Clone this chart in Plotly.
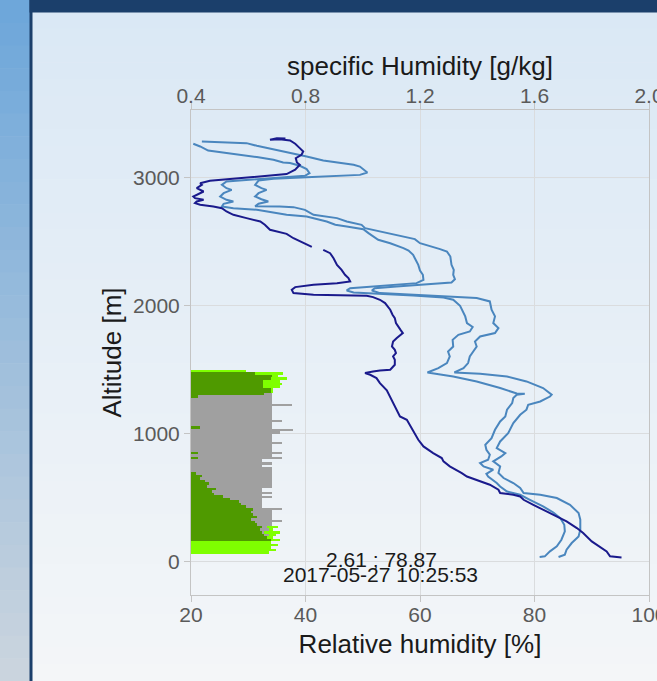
import plotly.graph_objects as go

# ---------------- data ----------------
# Specific humidity profile (dark line, top axis, g/kg)
q_alt = [34, 42, 81, 120, 159, 224, 263, 315, 341, 393,
         445, 484, 510, 523, 537, 563, 602, 627, 666, 693,
         745, 784, 810, 849, 901, 953, 1057, 1109, 1135, 1213,
         1291, 1340, 1396, 1435, 1461, 1474, 1487, 1495, 1500, 1539,
         1578, 1604, 1630, 1656, 1682, 1721, 1747, 1773, 1787, 1812,
         1838, 1865, 1904, 1930, 1969, 2021, 2047, 2068, 2078, 2080,
         2086, 2099, 2125, 2146, 2164, 2177, 2190, 2216, 2242, 2281,
         2320, 2372, 2411, 2437, None, 2460, 2489, 2528, 2562, 2594,
         2633, 2659, 2685, 2698, 2711, 2737, 2763, 2776, 2789, 2802,
         2815, 2828, 2841, 2854, 2875, 2893, 2919, 2945, 2958, 2977,
         2990, 3010, 3029, 3063, 3102, 3120, 3154, 3180, 3206, 3232,
         3266, 3292, 3302, 3297, 3310, 3308]
q_val = [1.904, 1.864, 1.852, 1.828, 1.800, 1.770, 1.748, 1.712, 1.690, 1.642,
         1.596, 1.562, 1.550, 1.526, 1.480, 1.474, 1.444, 1.410, 1.364, 1.346,
         1.304, 1.282, 1.276, 1.246, 1.212, 1.194, 1.166, 1.154, 1.130, 1.112,
         1.096, 1.084, 1.060, 1.048, 1.026, 1.008, 1.036, 1.060, 1.096, 1.112,
         1.112, 1.106, 1.116, 1.112, 1.102, 1.106, 1.118, 1.130, 1.140, 1.132,
         1.124, 1.116, 1.112, 1.104, 1.096, 1.078, 1.060, 1.036, 1.014, 0.944,
         0.828, 0.758, 0.752, 0.764, 0.828, 0.910, 0.956, 0.950, 0.938, 0.926,
         0.910, 0.898, 0.886, 0.862, None, 0.822, 0.792, 0.758, 0.734, 0.676,
         0.658, 0.642, 0.594, 0.566, 0.548, 0.524, 0.508, 0.478, 0.432, 0.414,
         0.420, 0.444, 0.414, 0.408, 0.426, 0.444, 0.420, 0.438, 0.432, 0.466,
         0.536, 0.652, 0.734, 0.764, 0.780, 0.770, 0.766, 0.786, 0.792, 0.780,
         0.764, 0.746, 0.710, 0.676, 0.700, 0.730]

# Relative humidity profiles (light lines, bottom axis, %)
rh_a_alt = [37, 42, 81, 120, 172, 237, 289, 341, 385, 432,
            484, 523, 549, 588, 615, 666, 687, 719, 745, 771,
            797, 836, 875, 914, 966, 1031, 1096, 1135, 1188, 1240,
            1279, 1305, 1313, 1315, 1357, 1409, 1448, 1479, 1513, 1552,
            1604, 1643, 1682, 1734, 1773, 1799, 1834, 1865, 1917, 1956,
            2000, 2047, 2065, 2081, 2091, 2104, 2120, 2138, 2146, 2164,
            2177, 2203, 2242, 2276, 2320, 2372, 2398, 2432, 2451, 2489,
            2516, 2568, 2599, 2620, 2633, 2659, 2672, 2698, 2711, 2750,
            2763, 2776, 2797, 2815, 2828, 2854, 2880, 2906, 2919, 2945,
            2971, 2990, 3005, 3016, 3037, 3068, 3094, 3115, 3120, 3141,
            3162, 3180, 3198, 3213, 3245, 3266]
rh_a = [80.9, 81.8, 82.7, 83.9, 84.7, 85.3, 85.2, 84.5, 83.3, 81.5,
        79.2, 77.5, 75.2, 74.0, 73.4, 71.9, 71.6, 72.8, 71.1, 70.5,
        71.9, 72.2, 71.6, 71.4, 72.5, 73.1, 74.0, 74.9, 75.2, 76.1,
        76.3, 76.9, 78.3, 76.9, 74.0, 69.9, 65.8, 61.3, 63.2, 64.7,
        65.2, 64.9, 65.8, 65.7, 66.7, 68.7, 69.2, 68.2, 67.9, 67.5,
        67.0, 65.8, 64.1, 58.8, 53.0, 48.4, 47.2, 47.8, 50.7, 55.9,
        59.4, 60.6, 60.5, 60.0, 59.7, 59.1, 58.8, 58.0, 57.1, 54.8,
        52.7, 51.0, 50.1, 47.2, 45.2, 43.7, 42.5, 40.2, 36.7, 31.5,
        27.4, 25.4, 25.7, 27.4, 26.2, 25.1, 25.7, 27.1, 26.2, 25.4,
        26.2, 31.5, 37.3, 39.9, 40.7, 40.2, 39.0, 37.3, 36.1, 34.4,
        31.5, 28.6, 25.7, 23.0, 21.6, 20.4]

rh_b_alt = [37, 55, 94, 146, 198, 250, 328, 380, 445, 498,
            523, 537, 576, 615, 654, 693, 745, 784, 823, 849,
            888, 940, 1005, 1083, 1148, 1188, 1227, 1252, 1291, 1305,
            1357, 1409, 1448, 1469, 1479, 1513, 1552, 1604, 1643, 1682,
            1721, 1760, 1787, 1826, 1865, 1917, 1969, 2034, 2060, 2073,
            2086, 2099, 2120, 2138, 2151, 2172, 2182, 2208, 2242, 2281,
            2320, 2385, 2424, 2443, 2489, 2521, 2547, 2580, 2607, 2633,
            2659, 2685, 2711, 2750, 2771, 2776, 2778, 2797, 2815, 2833,
            2854, 2880, 2906, 2919, 2945, 2979, 2992, 3005, 3016, 3023,
            3042, 3063, 3088, 3102, 3115, 3135, 3167, 3193, 3227, 3250,
            3271, 3279, 3284]
rh_b = [84.2, 85.3, 85.6, 86.5, 87.7, 88.0, 88.0, 87.7, 86.2, 83.9,
        81.0, 78.1, 77.5, 76.3, 74.6, 73.7, 74.0, 72.8, 74.2, 74.9,
        73.4, 74.0, 75.4, 76.3, 77.5, 78.6, 78.9, 81.0, 82.7, 83.0,
        81.5, 78.6, 75.2, 70.5, 66.0, 67.6, 68.4, 68.7, 69.3, 69.9,
        69.6, 70.5, 73.1, 73.7, 72.8, 73.1, 72.5, 72.2, 69.9, 64.7,
        58.8, 53.0, 51.6, 52.1, 55.9, 61.8, 65.5, 66.1, 65.8, 65.9,
        65.5, 65.3, 64.7, 63.5, 60.0, 59.1, 56.5, 53.0, 50.4, 49.8,
        47.2, 45.5, 41.4, 39.9, 37.9, 35.5, 31.2, 31.8, 33.5, 32.3,
        31.2, 31.8, 33.2, 32.3, 31.2, 31.8, 34.4, 40.2, 46.0, 49.5,
        50.8, 50.1, 49.5, 48.4, 46.0, 43.1, 40.2, 37.3, 33.8, 31.5,
        29.7, 25.7, 21.9]

# Layer bars (altitude bins, length in % of axis width)
bar_alt = [70, 90, 110, 130, 150, 170, 190, 210, 230, 250,
           270, 290, 310, 330, 350, 370, 390, 410, 430, 450,
           470, 490, 510, 530, 550, 570, 590, 610, 630, 650,
           670, 690, 710, 730, 750, 770, 790, 810, 830, 850,
           870, 890, 910, 930, 950, 970, 990, 1010, 1030, 1050,
           1070, 1090, 1110, 1130, 1150, 1170, 1190, 1210, 1230, 1250,
           1270, 1290, 1310, 1330, 1350, 1370, 1390, 1410, 1430, 1450,
           1470, 1490]
bar_dark = [0, 0, 0, 0, 0, 17.5, 16.5, 16.0, 15.5, 15.0,
            15.5, 14.5, 14.0, 13.0, 14.5, 13.5, 13.0, 13.5, 12.0, 11.0,
            10.5, 8.5, 7.0, 5.0, 4.5, 5.5, 3.5, 4.0, 3.0, 2.0,
            2.5, 1.0, 0, 0, 0, 0, 0, 1.5, 0, 1.5,
            0, 0, 0, 0, 0, 0, 0, 0, 0, 2.0,
            0, 0, 0, 0, 0, 0, 0, 0, 0, 0,
            0, 1.5, 16.0, 17.5, 17.5, 15.7, 15.7, 15.7, 17.5, 17.6,
            14.0, 0]
bar_gray = [0, 0, 0, 0, 0, 0, 0, 17.0, 16.0, 17.0,
            16.5, 17.6, 17.6, 17.6, 17.6, 17.6, 17.6, 17.6, 15.5, 15.5,
            15.5, 15.5, 15.5, 15.5, 15.5, 15.5, 17.6, 17.6, 17.6, 17.6,
            17.6, 17.6, 17.6, 17.6, 15.4, 15.4, 15.4, 17.6, 17.6, 17.6,
            17.6, 17.6, 17.6, 17.6, 17.6, 17.6, 17.6, 19.5, 19.5, 17.6,
            17.6, 17.6, 17.6, 17.6, 17.6, 17.6, 17.6, 17.6, 17.6, 17.6,
            17.6, 17.6, 17.6, 0, 0, 0, 0, 0, 0, 0,
            0, 0]
bar_light = [17.0, 18.5, 17.5, 19.0, 17.5, 19.5, 18.0, 18.5, 19.4, 18.0,
             19.0, 0, 0, 0, 0, 0, 0, 0, 0, 0,
             0, 0, 0, 0, 0, 0, 0, 0, 0, 0,
             0, 0, 0, 0, 0, 0, 0, 0, 0, 0,
             0, 0, 0, 0, 0, 0, 0, 0, 0, 0,
             0, 0, 0, 0, 0, 0, 0, 0, 0, 0,
             0, 0, 0, 17.8, 18.0, 19.5, 19.8, 19.5, 21.0, 19.0,
             20.0, 12.0]
spike_alt = [320, 415, 505, 540, 760, 775, 810, 849, 927, 1031, 1096, 1227]
spike_len = [19.8, 19.8, 17.6, 17.6, 17.6, 17.6, 19.8, 19.8, 19.8, 22.3, 19.8, 22.0]

label_values = "2.61 ; 78.87"
label_time = "2017-05-27 10:25:53"

assert len(q_alt) == len(q_val)
assert len(rh_a_alt) == len(rh_a) and len(rh_b_alt) == len(rh_b)
assert len(bar_alt) == len(bar_dark) == len(bar_gray) == len(bar_light)

# ---------------- layout geometry ----------------
W, H = 657, 681
PL, PR, PT, PB = 191, 649, 110, 595
FONT = "Liberation Sans, Arial, Helvetica, sans-serif"


def fx(px):
    return (px - PL) / (PR - PL)


def fy(py):
    return (PB - py) / (PB - PT)


def mix(c0, c1, t):
    return "rgb(%d,%d,%d)" % tuple(round(a + (b - a) * t) for a, b in zip(c0, c1))


shapes = []
# panel gradient
N = 40
for i in range(N):
    y0 = 12 + (H - 12) * i / N
    y1 = 12 + (H - 12) * (i + 1) / N + 0.6
    shapes.append(dict(type="rect", xref="paper", yref="paper", layer="below",
                       x0=fx(32), x1=fx(W + 2), y0=fy(y1), y1=fy(y0),
                       fillcolor=mix((218, 232, 245), (244, 246, 248), (i + 0.5) / N),
                       line=dict(width=0)))
# left strip gradient
M = 30
for i in range(M):
    y0 = H * i / M
    y1 = H * (i + 1) / M + 0.6
    shapes.append(dict(type="rect", xref="paper", yref="paper", layer="below",
                       x0=fx(-2), x1=fx(30), y0=fy(y1), y1=fy(y0),
                       fillcolor=mix((108, 166, 218), (204, 213, 222), (i + 0.5) / M),
                       line=dict(width=0)))
# dark frame: vertical border and top bar
shapes.append(dict(type="rect", xref="paper", yref="paper", layer="below",
                   x0=fx(29.5), x1=fx(32.5), y0=fy(H + 2), y1=fy(-2),
                   fillcolor="#1b3f6b", line=dict(width=0)))
shapes.append(dict(type="rect", xref="paper", yref="paper", layer="below",
                   x0=fx(29.5), x1=fx(W + 2), y0=fy(12.5), y1=fy(-2),
                   fillcolor="#1b3f6b", line=dict(width=0)))

fig = go.Figure()

# bars (drawn on their own hidden axis, starting at left edge)
fig.add_trace(go.Bar(x=bar_light, y=bar_alt, orientation="h", xaxis="x3", yaxis="y",
                     width=20, marker=dict(color="#7fff00", line=dict(width=0)),
                     hoverinfo="skip", showlegend=False))
fig.add_trace(go.Bar(x=bar_gray, y=bar_alt, orientation="h", xaxis="x3", yaxis="y",
                     width=20, marker=dict(color="#a0a0a0", line=dict(width=0)),
                     hoverinfo="skip", showlegend=False))
fig.add_trace(go.Bar(x=spike_len, y=spike_alt, orientation="h", xaxis="x3", yaxis="y",
                     width=8, marker=dict(color="#a0a0a0", line=dict(width=0)),
                     hoverinfo="skip", showlegend=False))
fig.add_trace(go.Bar(x=bar_dark, y=bar_alt, orientation="h", xaxis="x3", yaxis="y",
                     width=20, marker=dict(color="#4f9a00", line=dict(width=0)),
                     hoverinfo="skip", showlegend=False))

# relative humidity profiles
for xs, ys in ((rh_a, rh_a_alt), (rh_b, rh_b_alt)):
    fig.add_trace(go.Scatter(x=xs, y=ys, mode="lines", xaxis="x", yaxis="y",
                             line=dict(color="#4a86be", width=2),
                             showlegend=False))
# specific humidity profile
fig.add_trace(go.Scatter(x=q_val, y=q_alt, mode="lines", xaxis="x2", yaxis="y",
                         connectgaps=False,
                         line=dict(color="#1a1a8c", width=2), showlegend=False))

axis_common = dict(showline=True, linecolor="#c4c4c4", linewidth=1,
                   ticks="outside", tickcolor="#c4c4c4", ticklen=6,
                   tickfont=dict(family=FONT, size=21, color="#5a5a5a"),
                   zeroline=False, automargin=False)
title_font = dict(family=FONT, size=26, color="#1a1a1a")

fig.update_layout(
    width=W, height=H, autosize=False,
    margin=dict(l=PL, r=W - PR, t=PT, b=H - PB, pad=0),
    paper_bgcolor="#f1f4f7", plot_bgcolor="rgba(0,0,0,0)",
    font=dict(family=FONT),
    barmode="overlay", bargap=0,
    shapes=shapes,
    xaxis=dict(range=[20, 100], tick0=20, dtick=20, showgrid=True,
               gridcolor="#dadcde", gridwidth=1, ticklabeloverflow="allow",
               ticklabelstandoff=-5,
               title=dict(text="Relative humidity [%]", standoff=9, font=title_font),
               **axis_common),
    xaxis2=dict(range=[0.4, 2.0], tick0=0.4, dtick=0.4, tickformat=".1f",
                overlaying="x", side="top", anchor="y", showgrid=False,
                ticklabeloverflow="allow", ticklabelstandoff=-8,
                title=dict(text="specific Humidity [g/kg]", standoff=0, font=title_font),
                **axis_common),
    xaxis3=dict(range=[0, 100], overlaying="x", anchor="y", visible=False),
    yaxis=dict(range=[-260, 3530], tick0=0, dtick=1000, showgrid=True,
               gridcolor="#dadcde", gridwidth=1, mirror=True,
               title=dict(text="Altitude [m]", standoff=3, font=title_font),
               **axis_common),
    annotations=[
        dict(text=label_values, xref="paper", yref="paper", x=fx(381), y=fy(559),
             xanchor="center", yanchor="middle", showarrow=False,
             font=dict(family=FONT, size=21, color="#1a1a1a")),
        dict(text=label_time, xref="paper", yref="paper", x=fx(380), y=fy(574),
             xanchor="center", yanchor="middle", showarrow=False,
             font=dict(family=FONT, size=21, color="#1a1a1a")),
    ],
)

fig.write_html("out.html",
               config={"displayModeBar": False, "responsive": False},
               post_script="document.body.style.margin='0';document.body.style.overflow='hidden';")
